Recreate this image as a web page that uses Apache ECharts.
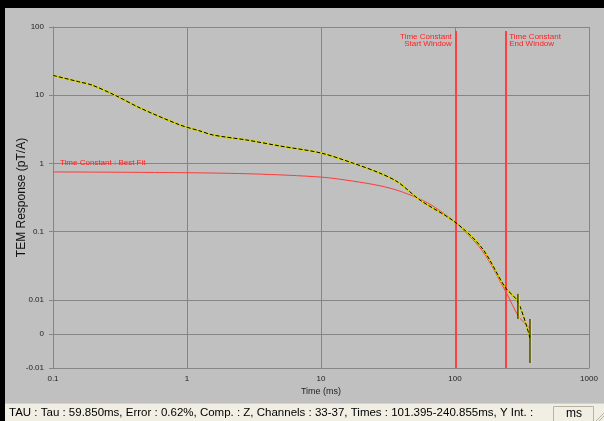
<!DOCTYPE html>
<html>
<head>
<meta charset="utf-8">
<script src="https://cdn.jsdelivr.net/npm/echarts@6/dist/echarts.min.js"></script>
<style>
	html, body { margin: 0; padding: 0; background: #c0c0c0; }
	#chart { width: 604px; height: 421px; }
</style>
</head>
<body>
<div id="chart"></div>
<script>
// measured decay (ms, pT/A)
const measTime = [0.1, 0.159, 0.195, 0.29, 0.446, 0.887, 1.25, 1.56, 2.8, 4.94, 10, 17.3, 27.5, 37.6, 54.8, 100, 159, 236, 295, 363];
const measResp = [19.5, 15.6, 14.1, 10.0, 6.5, 3.66, 2.99, 2.61, 2.2, 1.8, 1.42, 1.01, 0.72, 0.53, 0.29, 0.138, 0.0575, 0.0154, 0.0094, -0.0012];

// error bars on the late channels
const errTime = [295, 363];
const errLow = [0.00437, -0.00853];
const errHigh = [0.0122, 0.00437];

// exponential best fit
const fitTime = [0.1, 1, 3.2, 10, 17.3, 27.5, 37.6, 54.8, 70, 100, 159, 240, 300, 363];
const fitResp = [0.75, 0.73, 0.70, 0.63, 0.55, 0.47, 0.40, 0.30, 0.23, 0.138, 0.053, 0.013, 0.005, 0.0017];

// time constant window (ms)
const windowTimes = [101.395, 240.855];
const windowLabels = ["Time Constant\nStart Window", "Time Constant\nEnd Window"];

const yTicks = [-0.01, 0, 0.01, 0.1, 1, 10, 100];
const yTickLabels = ["-0.01", "0", "0.01", "0.1", "1", "10", "100"];
const xTickLabels = ["0.1", "1", "10", "100", "1000"];

const statusText = "TAU : Tau : 59.850ms, Error : 0.62%, Comp. : Z, Channels : 33-37, Times : 101.395-240.855ms, Y Int. :";

// log above 0.01, linear through zero
function toAxis(v) {
	if (Math.abs(v) <= 0.01) return 0.5 + 50 * v;
	return Math.log10(v) + 3;
}

const chart = echarts.init(document.getElementById("chart"), null, { renderer: "canvas" });

const labelFont = "Liberation Sans";
const gridColor = "#858585";

const option = {
	backgroundColor: "#c0c0c0",
	animation: false,
	grid: { left: 53, top: 27, right: 15, bottom: 53, outerBoundsMode: "none", containLabel: false },
	xAxis: {
		type: "log",
		logBase: 10,
		min: 0.1,
		max: 1000,
		name: "Time (ms)",
		nameLocation: "middle",
		nameGap: 19,
		nameMoveOverlap: false,
		nameTextStyle: { fontFamily: labelFont, fontSize: 9, color: "#222" },
		axisLine: { lineStyle: { color: gridColor } },
		axisTick: { show: false },
		axisLabel: {
			fontFamily: labelFont,
			fontSize: 8,
			color: "#222",
			margin: 7,
			formatter: (v) => {
				const i = Math.round(Math.log10(v)) + 1;
				return xTickLabels[i] ?? "";
			},
		},
		splitLine: { show: true, lineStyle: { color: gridColor, width: 1 } },
	},
	yAxis: {
		type: "value",
		min: 0,
		max: 5,
		name: "TEM Response (pT/A)",
		nameLocation: "middle",
		nameGap: 25,
		nameMoveOverlap: false,
		nameTextStyle: { fontFamily: labelFont, fontSize: 12, color: "#111" },
		axisLine: { show: true, lineStyle: { color: gridColor } },
		axisTick: {
			show: true,
			length: 4,
			customValues: yTicks.map(toAxis),
			lineStyle: { color: gridColor },
		},
		axisLabel: {
			fontFamily: labelFont,
			fontSize: 8,
			color: "#222",
			margin: 9,
			customValues: yTicks.map(toAxis),
			formatter: (v) => {
				const i = yTicks.findIndex((t) => Math.abs(toAxis(t) - v) < 1e-6);
				return i >= 0 ? yTickLabels[i] : "";
			},
		},
		splitLine: { show: true, lineStyle: { color: gridColor, width: 1 } },
	},
	series: [
		{
			name: "fit",
			type: "line",
			data: fitTime.map((t, i) => [t, toAxis(fitResp[i])]),
			symbol: "none",
			smooth: 0.3,
			lineStyle: { color: "#ff3a3a", width: 1 },
			z: 3,
			markPoint: {
				silent: true,
				symbol: "circle",
				symbolSize: 0,
				data: [
					{
						coord: [fitTime[0], toAxis(fitResp[0])],
						label: {
							show: true,
							position: "right",
							offset: [2, -9],
							formatter: "Time Constant : Best Fit",
							fontFamily: labelFont,
							fontSize: 8,
							color: "#ff2020",
						},
					},
				],
			},
			markLine: {
				symbol: "none",
				silent: true,
				label: { show: false },
				lineStyle: { color: "#ff4040", width: 2, type: "solid" },
				data: windowTimes.map((t) => [
					{ coord: [t, 4.94] },
					{ coord: [t, 0] },
				]),
			},
		},
		{
			name: "measured",
			type: "line",
			data: measTime.map((t, i) => [t, toAxis(measResp[i])]),
			symbol: "none",
			smooth: 0.3,
			lineStyle: { color: "#d8d800", width: 2 },
			z: 4,
		},
		{
			name: "measured-dash",
			type: "line",
			data: measTime.map((t, i) => [t, toAxis(measResp[i])]),
			symbol: "none",
			smooth: 0.3,
			lineStyle: { color: "#000", width: 1, type: [4, 2] },
			z: 5,
		},
		{
			name: "errors",
			type: "custom",
			z: 6,
			data: errTime.map((t, i) => [t, toAxis(errLow[i]), toAxis(errHigh[i])]),
			renderItem: (params, api) => {
				const lo = api.coord([api.value(0), api.value(1)]);
				const hi = api.coord([api.value(0), api.value(2)]);
				return {
					type: "group",
					children: [
						{
							type: "line",
							shape: { x1: lo[0] + 1, y1: lo[1], x2: hi[0] + 1, y2: hi[1] },
							style: { stroke: "#f0f000", lineWidth: 1.5 },
						},
						{
							type: "line",
							shape: { x1: lo[0], y1: lo[1], x2: hi[0], y2: hi[1] },
							style: { stroke: "#000", lineWidth: 1 },
						},
					],
				};
			},
		},
	],
};

chart.setOption(option);

// window labels, placed beside their marker lines
const topY = chart.convertToPixel({ gridIndex: 0 }, [1, 4.94])[1];
const winText = windowTimes.map((t, i) => {
	const x = chart.convertToPixel({ gridIndex: 0 }, [t, 0])[0];
	return {
		type: "text",
		x: i === 0 ? x - 4 : x + 3,
		y: topY + 2,
		style: {
			text: windowLabels[i],
			fill: "#ff2020",
			font: "8px " + labelFont,
			lineHeight: 7,
			align: i === 0 ? "right" : "left",
			verticalAlign: "top",
		},
		z: 10,
	};
});

chart.setOption({
	graphic: [
		// window frame
		{ type: "rect", shape: { x: 0, y: 0, width: 604, height: 8 }, style: { fill: "#000" }, z: 20 },
		{ type: "rect", shape: { x: 0, y: 0, width: 5, height: 421 }, style: { fill: "#000" }, z: 20 },
		// status bar
		{ type: "rect", shape: { x: 5, y: 403, width: 599, height: 18 }, style: { fill: "#f1efe4" }, z: 20 },
		{ type: "line", shape: { x1: 5, y1: 403.5, x2: 604, y2: 403.5 }, style: { stroke: "#d8d4c4", lineWidth: 1 }, z: 21 },
		{
			type: "text",
			x: 9,
			y: 413,
			style: { text: statusText, font: "11.5px " + labelFont, fill: "#000", verticalAlign: "middle" },
			z: 21,
		},
		{ type: "rect", shape: { x: 553.5, y: 406.5, width: 40, height: 16 }, style: { fill: "#f1efe4", stroke: "#b8b4a4", lineWidth: 1 }, z: 21 },
		{
			type: "text",
			x: 574,
			y: 414,
			style: { text: "ms", font: "12px " + labelFont, fill: "#000", align: "center", verticalAlign: "middle" },
			z: 22,
		},
		// size grip
		{ type: "line", shape: { x1: 596, y1: 421, x2: 604, y2: 413 }, style: { stroke: "#b8b4a4", lineWidth: 1 }, z: 22 },
		{ type: "line", shape: { x1: 599, y1: 421, x2: 604, y2: 416 }, style: { stroke: "#b8b4a4", lineWidth: 1 }, z: 22 },
		...winText,
	],
});
</script>
</body>
</html>
